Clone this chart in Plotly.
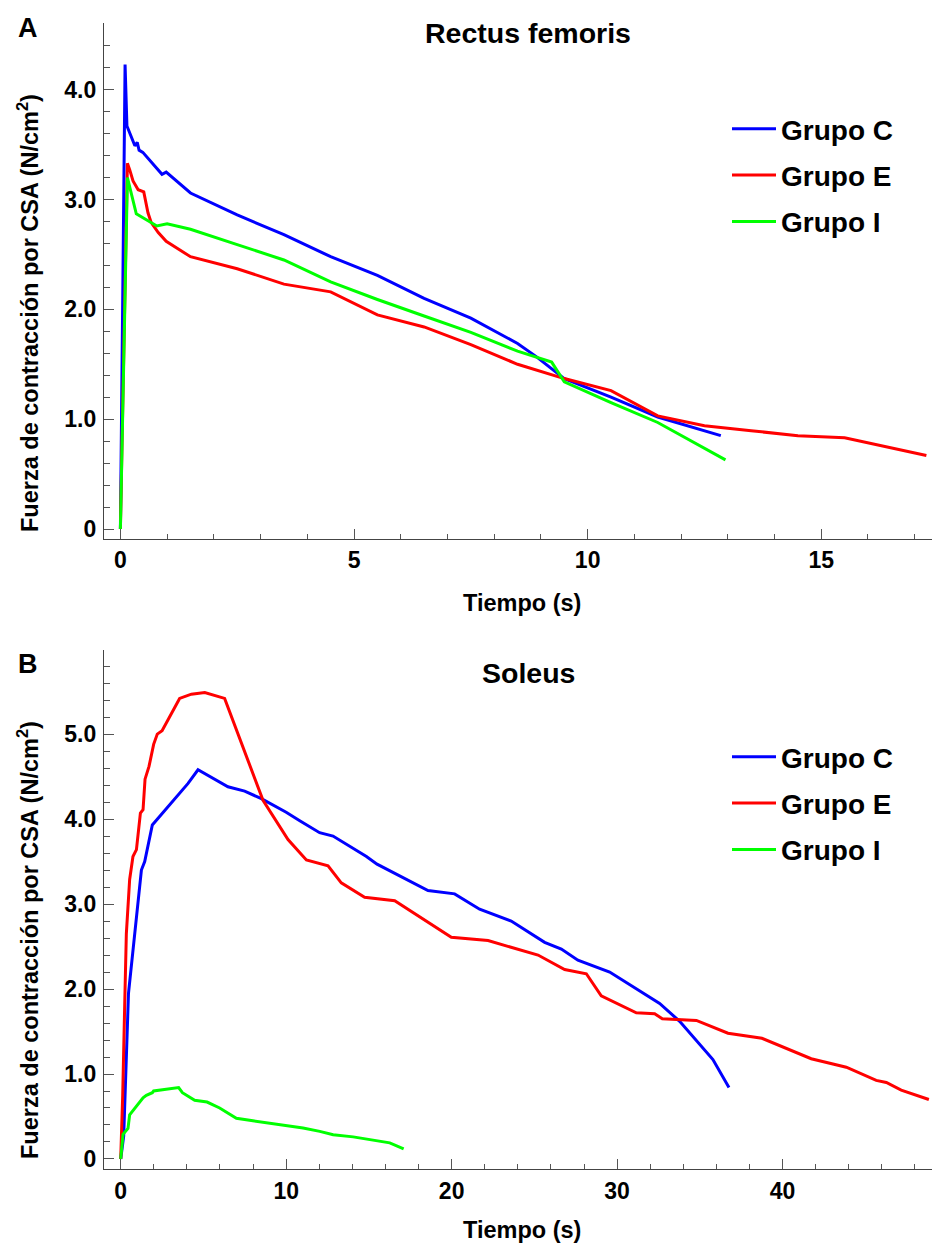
import plotly.graph_objects as go

# ---------------- Data: Rectus femoris (panel A) ----------------
rf_c_t = [0, 0.1, 0.14, 0.31, 0.36, 0.40, 0.48, 0.70, 0.78, 0.89, 0.98, 1.5, 2.5, 3.5, 4.5,
          5.5, 6.5, 7.5, 8.5, 8.9, 9.5, 10.5, 11.5, 12.85]
rf_c_f = [0, 4.23, 3.67, 3.49, 3.52, 3.45, 3.43, 3.32, 3.29, 3.23, 3.25, 3.06, 2.86, 2.68, 2.48,
          2.31, 2.10, 1.92, 1.69, 1.57, 1.37, 1.20, 1.02, 0.85]

rf_e_t = [0, 0.15, 0.2, 0.27, 0.38, 0.5, 0.59, 0.66, 0.81, 0.98, 1.5, 2.5, 3.5, 4.5, 5.5, 6.5,
          7.5, 8.5, 9.5, 10.5, 11.5, 12.5, 13.5, 14.5, 15.5, 16.5, 17.25]
rf_e_f = [0, 3.33, 3.27, 3.17, 3.09, 3.07, 2.88, 2.79, 2.70, 2.62, 2.48, 2.37, 2.23, 2.16, 1.95,
          1.84, 1.68, 1.50, 1.37, 1.26, 1.03, 0.94, 0.895, 0.85, 0.83, 0.74, 0.67]

rf_i_t = [0, 0.15, 0.34, 0.78, 1.0, 1.5, 2.5, 3.5, 4.5, 5.5, 6.5, 7.5, 8.5, 9.23, 9.5, 10.5,
          11.5, 12.95]
rf_i_f = [0, 3.20, 2.87, 2.76, 2.78, 2.73, 2.59, 2.45, 2.25, 2.09, 1.94, 1.79, 1.62, 1.52, 1.34,
          1.15, 0.97, 0.63]

# ---------------- Data: Soleus (panel B) ----------------
so_c_t = [0, 0.18, 0.47, 0.85, 1.25, 1.45, 1.91, 4.07, 4.67, 6.48, 7.49, 8.5, 10.0, 10.82, 12.02,
          12.83, 14.85, 15.49, 18.57, 20.18, 21.69, 23.6, 25.62, 26.63, 27.63, 29.55, 32.57,
          33.78, 34.79, 35.79, 36.76]
so_c_f = [0, 0.27, 1.95, 2.70, 3.40, 3.50, 3.93, 4.42, 4.58, 4.38, 4.33, 4.24, 4.08, 3.98, 3.84,
          3.80, 3.56, 3.47, 3.16, 3.12, 2.94, 2.80, 2.55, 2.47, 2.34, 2.20, 1.83,
          1.62, 1.40, 1.17, 0.84]

so_e_t = [0, 0.12, 0.24, 0.34, 0.54, 0.74, 0.95, 1.19, 1.35, 1.47, 1.71, 1.99, 2.21, 2.50, 3.56,
          4.27, 5.08, 6.28, 8.6, 10.11, 11.22, 12.53, 13.33, 14.74, 16.56, 19.98, 22.2, 25.22,
          26.83, 28.14, 29.04, 31.16, 32.27, 32.73, 34.79, 36.7, 38.75, 41.73, 43.85, 45.66,
          46.27, 47.17, 48.84]
so_e_f = [0, 0.75, 1.80, 2.65, 3.29, 3.56, 3.64, 4.07, 4.11, 4.47, 4.62, 4.88, 5.00, 5.04, 5.42,
          5.47, 5.49, 5.42, 4.22, 3.76, 3.52, 3.45, 3.25, 3.08, 3.04, 2.61, 2.57, 2.40,
          2.23, 2.18, 1.92, 1.72, 1.71, 1.65, 1.63, 1.48, 1.42, 1.18, 1.08, 0.925,
          0.90, 0.81, 0.70]

so_i_t = [0, 0.14, 0.44, 0.54, 1.35, 1.55, 1.91, 1.99, 3.50, 3.73, 4.47, 5.22, 5.98, 6.99, 7.99,
          10.01, 11.02, 12.03, 12.84, 14.05, 16.26, 17.1]
so_i_f = [0, 0.29, 0.36, 0.52, 0.72, 0.75, 0.78, 0.80, 0.84, 0.78, 0.69, 0.67, 0.60, 0.48, 0.45,
          0.39, 0.365, 0.325, 0.285, 0.26, 0.19, 0.12]

group_names = ["Grupo C", "Grupo E", "Grupo I"]
group_colors = ["#0000FF", "#FF0000", "#00FF00"]

y_tickvals = [0, 1, 2, 3, 4, 5]
y_ticktext = ["0", "1.0", "2.0", "3.0", "4.0", "5.0"]
x_top_ticks = [0, 5, 10, 15]
x_bot_ticks = [0, 10, 20, 30, 40]

FONT = "Liberation Sans, Arial, sans-serif"

fig = go.Figure()

top_series = [(rf_c_t, rf_c_f), (rf_e_t, rf_e_f), (rf_i_t, rf_i_f)]
bot_series = [(so_c_t, so_c_f), (so_e_t, so_e_f), (so_i_t, so_i_f)]

for i, (t, f) in enumerate(top_series):
    fig.add_trace(go.Scatter(x=t, y=f, mode="lines", name=group_names[i],
                             line=dict(color=group_colors[i], width=3),
                             xaxis="x", yaxis="y", legend="legend",
                             legendgroup="a" + str(i)))
for i, (t, f) in enumerate(bot_series):
    fig.add_trace(go.Scatter(x=t, y=f, mode="lines", name=group_names[i],
                             line=dict(color=group_colors[i], width=3),
                             xaxis="x2", yaxis="y2", legend="legend2",
                             legendgroup="b" + str(i)))

W, H = 933, 1247
L, R, T, B = 104, 1, 23, 78
plot_h = H - T - B  # 1146
top_dom = [(1169 - 539) / plot_h, 1.0]
bot_dom = [0.0, (1169 - 650) / plot_h]


def px_x(p):
    return (p - L) / (W - L - R)


def px_y(p):
    return (1169 - p) / plot_h


axis_common = dict(showline=True, linecolor="#444", linewidth=1.3, showgrid=False,
                   zeroline=False, ticks="inside", ticklen=10, tickwidth=1.2,
                   tickcolor="#555",
                   tickfont=dict(family=FONT, size=23, color="black", weight="bold"))

legend_font = dict(family=FONT, size=28, color="black", weight="bold")

fig.update_layout(
    width=W, height=H,
    margin=dict(l=L, r=R, t=T, b=B),
    paper_bgcolor="white", plot_bgcolor="white",
    font=dict(family=FONT, color="black"),
    xaxis=dict(domain=[0, 1], anchor="y", range=[-0.351, 17.37], tickvals=x_top_ticks,
               minor=dict(ticks="inside", ticklen=5, dtick=1, tickcolor="#555", tickwidth=1.2),
               ticklabelstandoff=0, **axis_common),
    yaxis=dict(domain=top_dom, anchor="x", range=[-0.091, 4.608], tickvals=y_tickvals[:5],
               ticktext=y_ticktext[:5],
               minor=dict(ticks="inside", ticklen=6, dtick=0.2, tickcolor="#555", tickwidth=1.2),
               ticklabelstandoff=2, **axis_common),
    xaxis2=dict(domain=[0, 1], anchor="y2", range=[-1.01, 49.03], tickvals=x_bot_ticks,
                minor=dict(ticks="inside", ticklen=5, dtick=2, tickcolor="#555", tickwidth=1.2),
                ticklabelstandoff=1, **axis_common),
    yaxis2=dict(domain=bot_dom, anchor="x2", range=[-0.118, 5.99], tickvals=y_tickvals,
                ticktext=y_ticktext,
                minor=dict(ticks="inside", ticklen=6, dtick=0.2, tickcolor="#555", tickwidth=1.2),
                ticklabelstandoff=2, **axis_common),
    legend=dict(x=px_x(727), y=px_y(104), xanchor="left", yanchor="top",
                bgcolor="rgba(0,0,0,0)", tracegroupgap=7, itemwidth=44,
                font=legend_font),
    legend2=dict(x=px_x(727), y=px_y(732), xanchor="left", yanchor="top",
                 bgcolor="rgba(0,0,0,0)", tracegroupgap=7, itemwidth=44,
                 font=legend_font),
)

bold = lambda s: dict(family=FONT, size=s, color="black", weight="bold")
ann = [
    dict(text="Rectus femoris", x=px_x(528), y=px_y(33), font=bold(28.5)),
    dict(text="Soleus", x=px_x(528), y=px_y(673), font=bold(28.5)),
    dict(text="A", x=px_x(28), y=px_y(28), font=bold(27)),
    dict(text="B", x=px_x(28), y=px_y(664), font=bold(27)),
    dict(text="Tiempo (s)", x=px_x(522), y=px_y(603), font=bold(23.5)),
    dict(text="Tiempo (s)", x=px_x(522), y=px_y(1230), font=bold(23.5)),
    dict(text="Fuerza de contracción por CSA (N/cm<sup>2</sup>)", x=px_x(28), y=px_y(313),
         textangle=-90, font=bold(23.5)),
    dict(text="Fuerza de contracción por CSA (N/cm<sup>2</sup>)", x=px_x(28), y=px_y(940),
         textangle=-90, font=bold(23.5)),
]
for a in ann:
    fig.add_annotation(xref="paper", yref="paper", showarrow=False,
                       xanchor="center", yanchor="middle", **a)

fig.write_html("out.html", config={"displayModeBar": False},
               post_script="document.body.style.margin='0';document.body.style.padding='0';")
